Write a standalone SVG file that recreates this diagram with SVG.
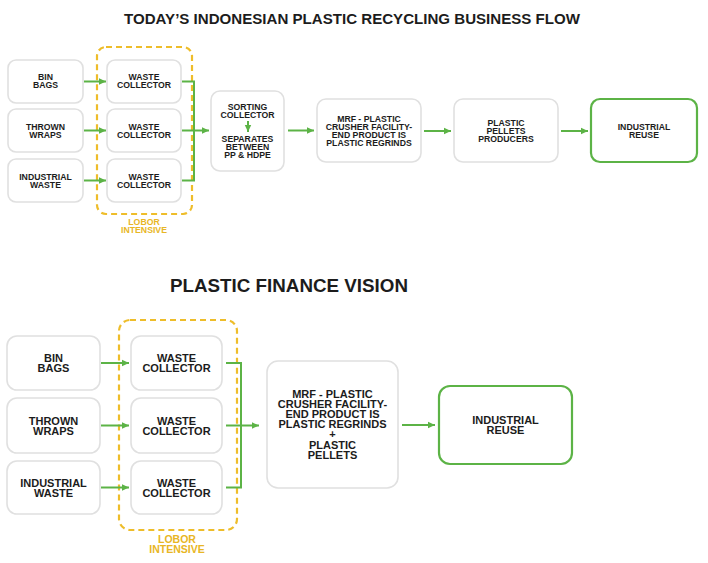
<svg xmlns="http://www.w3.org/2000/svg" width="708" height="563" viewBox="0 0 708 563">
<defs>
<style>
.box{fill:#fff;stroke:#e0e0e0;stroke-width:1.6}
.gbox{fill:#fff;stroke:#5cb346;stroke-width:2.2}
.t{font-family:"Liberation Sans",Arial,sans-serif;font-weight:bold;fill:#1c1c1c;text-anchor:middle}
.s{font-size:8.7px}
.l{font-size:11px}
.y{fill:#e8b625}
.conn{stroke:#5cb346;stroke-width:2;fill:none}
.dash{fill:none;stroke:#eebd2a;stroke-width:2.2;stroke-dasharray:6 4}
</style>
<marker id="ah" markerUnits="userSpaceOnUse" markerWidth="8" markerHeight="8" refX="7" refY="4" orient="auto">
<path d="M0,0.8 L7,4 L0,7.2 z" fill="#5cb346"/>
</marker>
</defs>
<rect width="708" height="563" fill="#fff"/>

<text class="t" x="352" y="24" font-size="14" textLength="456" lengthAdjust="spacingAndGlyphs">TODAY’S INDONESIAN PLASTIC RECYCLING BUSINESS FLOW</text>
<text class="t" x="289" y="292" font-size="18" textLength="238" lengthAdjust="spacingAndGlyphs">PLASTIC FINANCE VISION</text>

<!-- Top section -->
<g id="top-labor">
<rect class="dash" x="97" y="47" width="95" height="167" rx="9"/>
<text class="t s y" x="144" y="225">LOBOR</text>
<text class="t s y" x="144" y="233">INTENSIVE</text>
</g>
<g id="top-bin"><rect class="box" x="8" y="60" width="75" height="43" rx="8"/><text class="t s" x="45.5" y="80">BIN</text><text class="t s" x="45.5" y="88">BAGS</text></g>
<g id="top-thrown"><rect class="box" x="8" y="109" width="75" height="43" rx="8"/><text class="t s" x="45.5" y="129.5">THROWN</text><text class="t s" x="45.5" y="137.5">WRAPS</text></g>
<g id="top-industrial"><rect class="box" x="8" y="159" width="75" height="43" rx="8"/><text class="t s" x="45.5" y="179.5">INDUSTRIAL</text><text class="t s" x="45.5" y="187.5">WASTE</text></g>
<g id="top-wc1"><rect class="box" x="107" y="60" width="74" height="43" rx="8"/><text class="t s" x="144" y="80">WASTE</text><text class="t s" x="144" y="88">COLLECTOR</text></g>
<g id="top-wc2"><rect class="box" x="107" y="109" width="74" height="43" rx="8"/><text class="t s" x="144" y="129.5">WASTE</text><text class="t s" x="144" y="137.5">COLLECTOR</text></g>
<g id="top-wc3"><rect class="box" x="107" y="159" width="74" height="43" rx="8"/><text class="t s" x="144" y="179.5">WASTE</text><text class="t s" x="144" y="187.5">COLLECTOR</text></g>
<g id="top-sorting"><rect class="box" x="211" y="91" width="73" height="80" rx="9"/>
<text class="t s" x="247.5" y="110">SORTING</text><text class="t s" x="247.5" y="118">COLLECTOR</text>
<text class="t s" x="247.5" y="142">SEPARATES</text><text class="t s" x="247.5" y="150">BETWEEN</text><text class="t s" x="247.5" y="158">PP &amp; HDPE</text></g>
<g id="top-mrf"><rect class="box" x="317" y="99" width="104" height="63" rx="9"/>
<text class="t s" x="369" y="122">MRF - PLASTIC</text><text class="t s" x="369" y="130">CRUSHER FACILITY-</text><text class="t s" x="369" y="138">END PRODUCT IS</text><text class="t s" x="369" y="146">PLASTIC REGRINDS</text></g>
<g id="top-pellets"><rect class="box" x="454" y="99" width="104" height="63" rx="9"/>
<text class="t s" x="506" y="126">PLASTIC</text><text class="t s" x="506" y="134">PELLETS</text><text class="t s" x="506" y="142">PRODUCERS</text></g>
<g id="top-reuse"><rect class="gbox" x="591" y="99" width="106" height="63" rx="9"/>
<text class="t s" x="644" y="130">INDUSTRIAL</text><text class="t s" x="644" y="138">REUSE</text></g>

<!-- Bottom section -->
<g id="bot-labor">
<rect class="dash" x="119" y="320" width="118" height="210" rx="11"/>
<text class="t y" font-size="10.5" x="177" y="543">LOBOR</text>
<text class="t y" font-size="10.5" x="177" y="553">INTENSIVE</text>
</g>
<g id="bot-bin"><rect class="box" x="7" y="336" width="93" height="54" rx="10"/><text class="t l" x="53.5" y="362">BIN</text><text class="t l" x="53.5" y="372">BAGS</text></g>
<g id="bot-thrown"><rect class="box" x="7" y="398" width="93" height="55" rx="10"/><text class="t l" x="53.5" y="424.5">THROWN</text><text class="t l" x="53.5" y="434.5">WRAPS</text></g>
<g id="bot-industrial"><rect class="box" x="7" y="461" width="93" height="53" rx="10"/><text class="t l" x="53.5" y="486.5">INDUSTRIAL</text><text class="t l" x="53.5" y="496.5">WASTE</text></g>
<g id="bot-wc1"><rect class="box" x="131" y="336" width="91" height="54" rx="10"/><text class="t l" x="176.5" y="362">WASTE</text><text class="t l" x="176.5" y="372">COLLECTOR</text></g>
<g id="bot-wc2"><rect class="box" x="131" y="398" width="91" height="55" rx="10"/><text class="t l" x="176.5" y="424.5">WASTE</text><text class="t l" x="176.5" y="434.5">COLLECTOR</text></g>
<g id="bot-wc3"><rect class="box" x="131" y="461" width="91" height="53" rx="10"/><text class="t l" x="176.5" y="486.5">WASTE</text><text class="t l" x="176.5" y="496.5">COLLECTOR</text></g>
<g id="bot-mrf"><rect class="box" x="267" y="361" width="131" height="127" rx="11"/>
<text class="t l" x="332.5" y="398">MRF - PLASTIC</text><text class="t l" x="332.5" y="408">CRUSHER FACILITY-</text><text class="t l" x="332.5" y="418">END PRODUCT IS</text><text class="t l" x="332.5" y="428">PLASTIC REGRINDS</text><text class="t l" x="332.5" y="438">+</text><text class="t l" x="332.5" y="449">PLASTIC</text><text class="t l" x="332.5" y="459">PELLETS</text></g>
<g id="bot-reuse"><rect class="gbox" x="439" y="386" width="133" height="78" rx="11"/>
<text class="t l" x="505.5" y="424">INDUSTRIAL</text><text class="t l" x="505.5" y="434">REUSE</text></g>

<g id="connectors">
<path class="conn" d="M84,81.5 H106" marker-end="url(#ah)"/>
<path class="conn" d="M84,130.5 H106" marker-end="url(#ah)"/>
<path class="conn" d="M84,180.5 H106" marker-end="url(#ah)"/>
<path class="conn" d="M182,81.5 H194 V180.5 H182 M182,130.5 H194"/>
<path class="conn" d="M194,130.5 H209" marker-end="url(#ah)"/>
<path class="conn" d="M248,121 V132" marker-end="url(#ah)"/>
<path class="conn" d="M288,130.5 H314" marker-end="url(#ah)"/>
<path class="conn" d="M424,131 H451" marker-end="url(#ah)"/>
<path class="conn" d="M561,131 H588" marker-end="url(#ah)"/>

<path class="conn" d="M101,363 H129" marker-end="url(#ah)"/>
<path class="conn" d="M101,425.5 H129" marker-end="url(#ah)"/>
<path class="conn" d="M101,487.5 H129" marker-end="url(#ah)"/>
<path class="conn" d="M226,363 H241 V487.5 H226 M226,425.5 H241"/>
<path class="conn" d="M241,425.5 H259" marker-end="url(#ah)"/>
<path class="conn" d="M402,425 H435" marker-end="url(#ah)"/>
</g>
</svg>
